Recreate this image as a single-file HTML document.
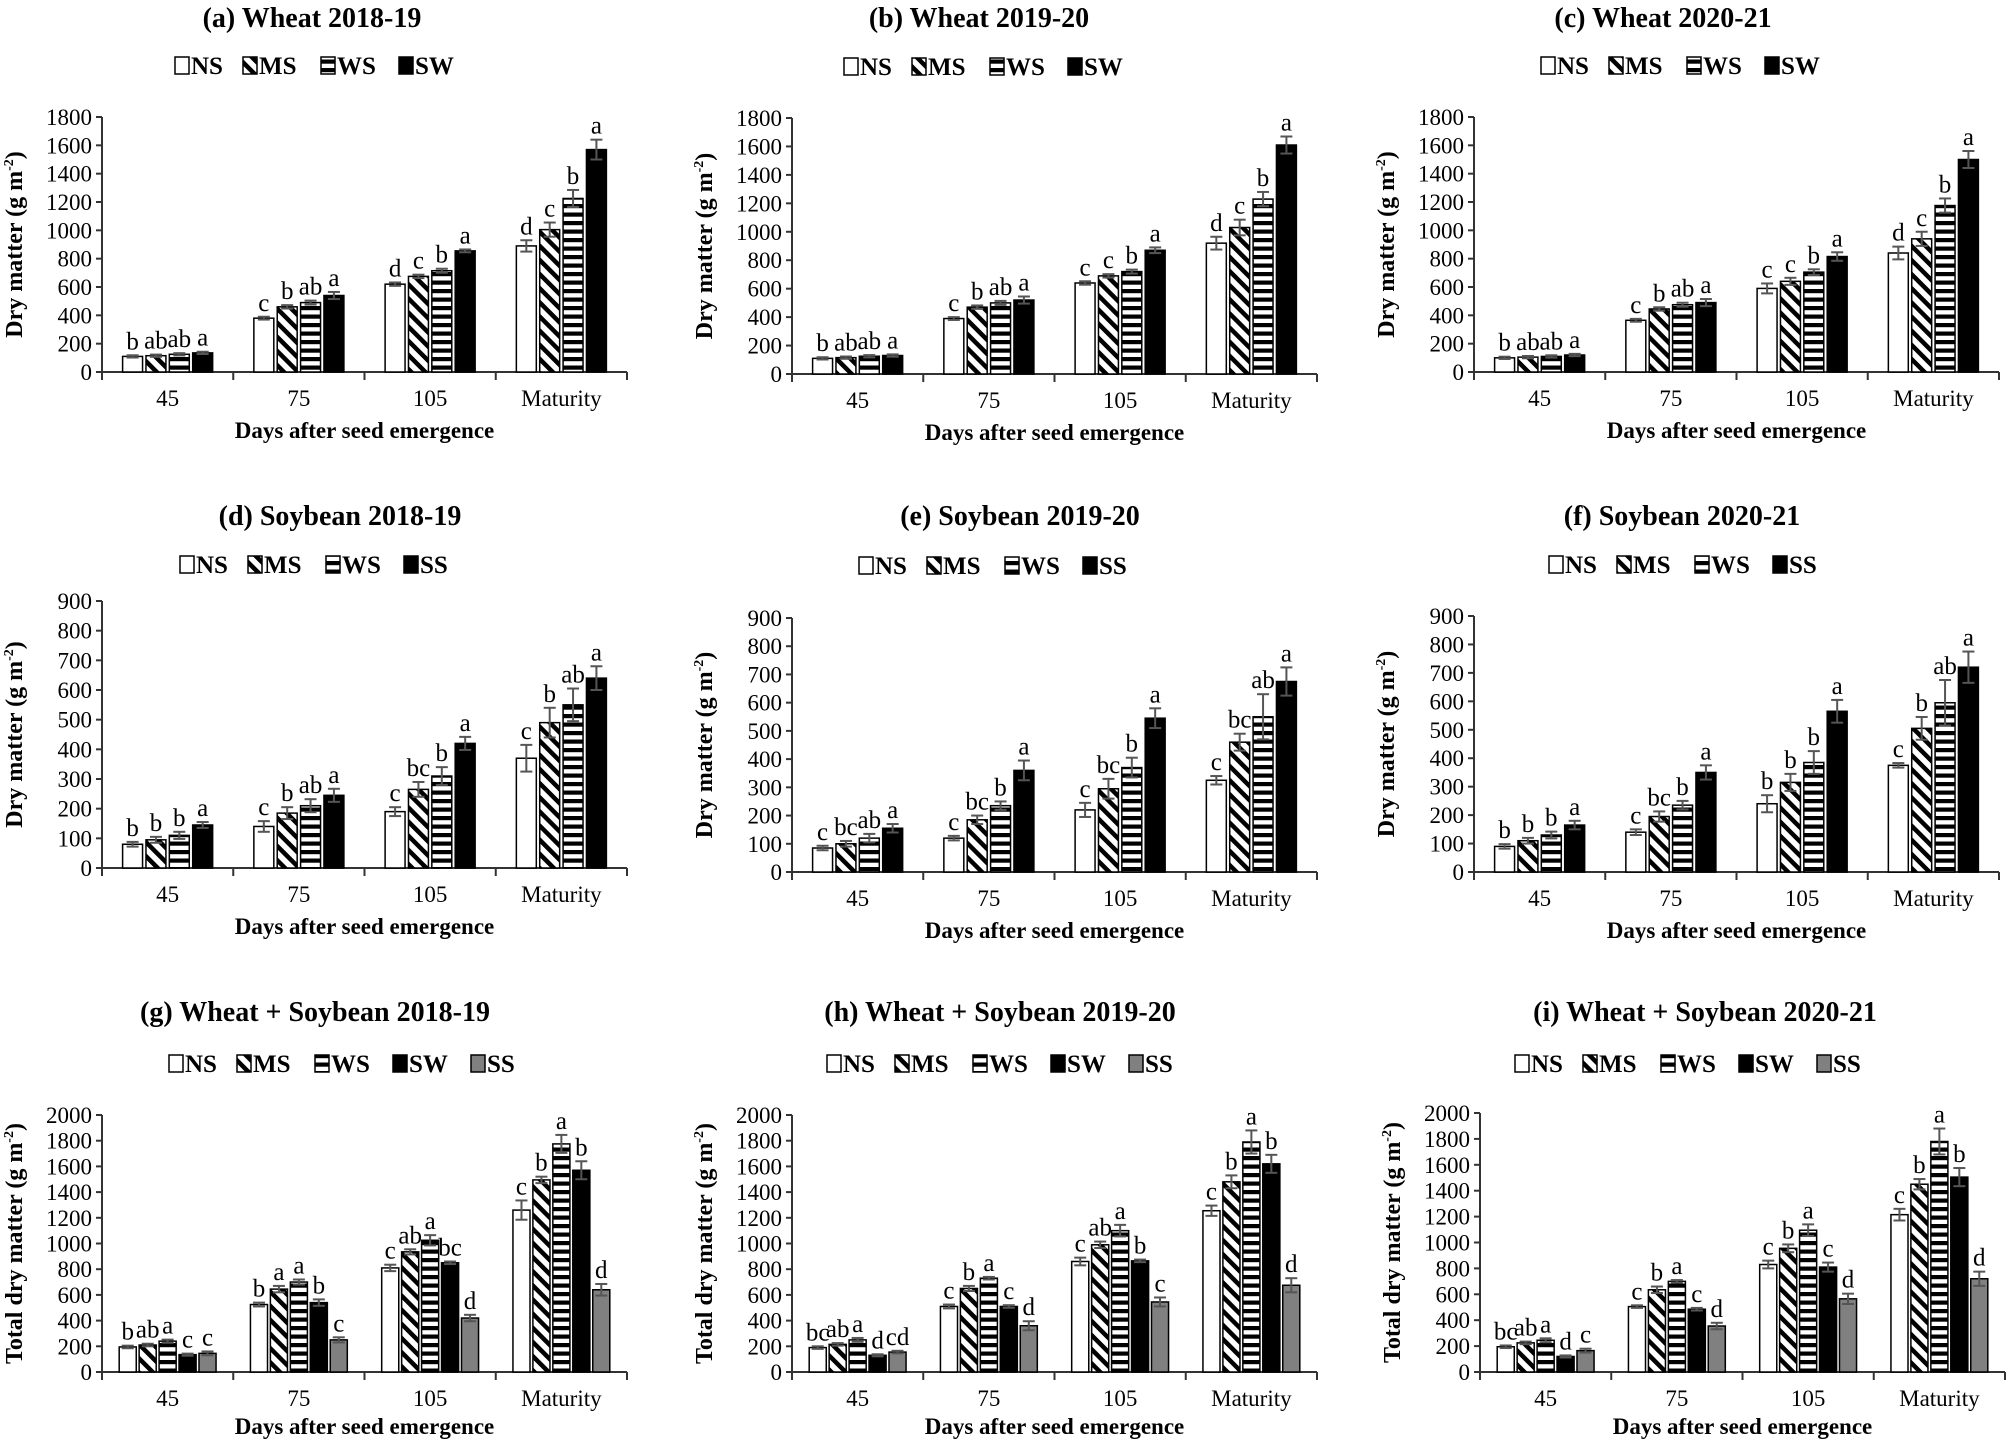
<!DOCTYPE html>
<html><head><meta charset="utf-8">
<style>
html,body{margin:0;padding:0;background:#fff;}
svg{display:block;}
text{font-family:"Liberation Serif","DejaVu Serif",serif;}
</style></head>
<body>
<svg id="s" width="2010" height="1443" xmlns="http://www.w3.org/2000/svg">
<defs>
<pattern id="diag" patternUnits="userSpaceOnUse" width="10" height="10" patternTransform="rotate(45)">
<rect width="10" height="10" fill="#fff"/><rect x="0" y="0" width="10" height="4.5" fill="#000"/>
</pattern>
<pattern id="horz" patternUnits="userSpaceOnUse" width="8" height="8.5">
<rect width="8" height="8.5" fill="#fff"/><rect x="0" y="0" width="8" height="4.2" fill="#000"/>
</pattern>
</defs>
</svg>
<script>
var S=document.getElementById('s');var NS='http://www.w3.org/2000/svg';
function el(t,a,txt){var e=document.createElementNS(NS,t);for(var k in a)e.setAttribute(k,a[k]);if(txt!==undefined)e.textContent=txt;S.appendChild(e);return e;}
var fills={NS:'#fff',MS:'url(#diag)',WS:'url(#horz)',SW:'#000',SS:'#000',SS5:'#808080'};
var panels=[
{t:'(a) Wheat 2018-19',ax:102,top:117,bot:372,ty:17,ly:65,tc:312,lc:318,max:1800,step:200,ser:['NS','MS','WS','SW'],yt:'Dry matter',xo:66,
d:[[110,115,125,135],[380,460,490,540],[620,675,715,855],[890,1005,1225,1570]],
e:[[8,8,8,8],[10,12,14,25],[12,12,14,10],[40,50,60,70]],
l:[['b','ab','ab','a'],['c','b','ab','a'],['d','c','b','a'],['d','c','b','a']]},
{t:'(b) Wheat 2019-20',ax:792,top:118,bot:374,ty:17,ly:66,tc:979,lc:987,max:1800,step:200,ser:['NS','MS','WS','SW'],yt:'Dry matter',xo:66,
d:[[110,115,125,130],[390,470,500,520],[640,690,720,870],[920,1030,1230,1610]],
e:[[8,8,8,8],[10,12,14,25],[12,12,14,20],[45,55,50,60]],
l:[['b','ab','ab','a'],['c','b','ab','a'],['c','c','b','a'],['d','c','b','a']]},
{t:'(c) Wheat 2020-21',ax:1474,top:117,bot:372,ty:17,ly:65,tc:1663,lc:1684,max:1800,step:200,ser:['NS','MS','WS','SW'],yt:'Dry matter',xo:66,
d:[[100,105,110,120],[365,445,475,490],[590,640,705,815],[840,940,1175,1500]],
e:[[8,8,8,8],[10,12,14,25],[35,25,20,30],[45,50,50,60]],
l:[['b','ab','ab','a'],['c','b','ab','a'],['c','c','b','a'],['d','c','b','a']]},
{t:'(d) Soybean 2018-19',ax:102,top:601,bot:868,ty:515,ly:564,tc:340,lc:318,max:900,step:100,ser:['NS','MS','WS','SS'],yt:'Dry matter',xo:66,
d:[[80,95,110,145],[140,185,210,245],[190,265,310,420],[370,490,550,640]],
e:[[8,10,12,10],[18,20,22,22],[15,25,30,22],[45,50,55,40]],
l:[['b','b','b','a'],['c','b','ab','a'],['c','bc','b','a'],['c','b','ab','a']]},
{t:'(e) Soybean 2019-20',ax:792,top:618,bot:872,ty:515,ly:565,tc:1020,lc:997,max:900,step:100,ser:['NS','MS','WS','SS'],yt:'Dry matter',xo:66,
d:[[85,100,120,155],[120,185,235,360],[220,295,370,545],[325,460,550,675]],
e:[[8,10,15,15],[8,15,15,35],[25,35,35,35],[15,30,80,50]],
l:[['c','bc','ab','a'],['c','bc','b','a'],['c','bc','b','a'],['c','bc','ab','a']]},
{t:'(f) Soybean 2020-21',ax:1474,top:616,bot:872,ty:515,ly:564,tc:1682,lc:1687,max:900,step:100,ser:['NS','MS','WS','SS'],yt:'Dry matter',xo:66,
d:[[90,110,130,165],[140,195,235,350],[240,315,385,565],[375,505,595,720]],
e:[[8,10,12,15],[10,18,15,25],[30,30,40,40],[8,40,80,55]],
l:[['b','b','b','a'],['c','bc','b','a'],['b','b','b','a'],['c','b','ab','a']]},
{t:'(g) Wheat + Soybean 2018-19',ax:102,top:1115,bot:1372,ty:1011,ly:1063,tc:315,lc:346,max:2000,step:200,ser:['NS','MS','WS','SW','SS5'],yt:'Total dry matter',xo:62,
d:[[195,210,240,135,145],[525,645,700,540,250],[810,935,1025,850,420],[1260,1495,1775,1570,640]],
e:[[10,10,12,8,15],[15,25,20,25,20],[25,20,40,10,25],[75,25,70,70,45]],
l:[['b','ab','a','c','c'],['b','a','a','b','c'],['c','ab','a','bc','d'],['c','b','a','b','d']]},
{t:'(h) Wheat + Soybean 2019-20',ax:792,top:1115,bot:1372,ty:1011,ly:1063,tc:1000,lc:1004,max:2000,step:200,ser:['NS','MS','WS','SW','SS5'],yt:'Total dry matter',xo:62,
d:[[190,215,250,130,155],[510,650,730,510,360],[860,990,1100,865,545],[1255,1480,1790,1620,675]],
e:[[10,10,15,8,10],[15,20,10,10,35],[30,25,45,10,35],[40,50,90,70,55]],
l:[['bc','ab','a','d','cd'],['c','b','a','c','d'],['c','ab','a','b','c'],['c','b','a','b','d']]},
{t:'(i) Wheat + Soybean 2020-21',ax:1480,top:1113,bot:1372,ty:1011,ly:1063,tc:1705,lc:1692,max:2000,step:200,ser:['NS','MS','WS','SW','SS5'],yt:'Total dry matter',xo:62,
d:[[195,225,245,120,165],[505,635,700,485,355],[830,955,1095,810,565],[1215,1450,1780,1505,720]],
e:[[10,10,15,8,15],[10,25,10,10,25],[30,30,45,35,40],[45,40,100,70,55]],
l:[['bc','ab','a','d','c'],['c','b','a','c','d'],['c','b','a','c','d'],['c','b','a','b','d']]}
];
var W=525,cats=['45','75','105','Maturity'];
panels.forEach(function(p){
  var ax=p.ax,gw=W/4,n=p.ser.length;
  function Y(v){return p.bot-(v/p.max)*(p.bot-p.top);}
  el('text',{x:p.tc,y:p.ty+10,'text-anchor':'middle','font-size':28,'font-weight':'bold'},p.t);
  var labels=p.ser.map(function(s){return s=='SS5'?'SS':s;});
  var itemW=labels.map(function(s){return 16+(s=='NS'||s=='SS'?36:46)+16;});
  var tot=itemW.reduce(function(a,b){return a+b;},0)-16;
  var lx=p.lc-tot/2;
  p.ser.forEach(function(s,i){
    el('rect',{x:lx,y:p.ly-8,width:14,height:17,fill:fills[s],stroke:'#000','stroke-width':1.5});
    el('text',{x:lx+16,y:p.ly+9,'font-size':25,'font-weight':'bold'},labels[i]);
    lx+=itemW[i];
  });
  var cy=(p.top+p.bot)/2;
  var t=el('text',{x:0,y:0,'text-anchor':'middle','font-size':24,'font-weight':'bold',transform:'translate('+(ax-80)+','+cy+') rotate(-90)'});
  t.innerHTML=p.yt+' (g m<tspan dy="-9" font-size="14">-2</tspan><tspan dy="9">)</tspan>';
  el('line',{x1:ax,y1:p.top,x2:ax,y2:p.bot,stroke:'#333','stroke-width':2});
  for(var v=0;v<=p.max;v+=p.step){
    var y=Y(v);
    el('line',{x1:ax-6,y1:y,x2:ax,y2:y,stroke:'#333','stroke-width':2});
    el('text',{x:ax-10,y:y+8,'text-anchor':'end','font-size':23},String(v));
  }
  el('line',{x1:ax,y1:p.bot,x2:ax+W,y2:p.bot,stroke:'#333','stroke-width':2});
  for(var g=0;g<=4;g++){var x=ax+g*gw;el('line',{x1:x,y1:p.bot,x2:x,y2:p.bot+8,stroke:'#333','stroke-width':2});}
  var bw,sp;if(n==4){bw=gw*0.152;sp=gw*0.178;}else{bw=gw*0.13;sp=gw*0.152;}
  for(var g=0;g<4;g++){
    var gc=ax+(g+0.5)*gw;
    el('text',{x:gc,y:p.bot+34,'text-anchor':'middle','font-size':23},cats[g]);
    for(var i=0;i<n;i++){
      var bx=gc+(i-(n-1)/2)*sp-bw/2;var v=p.d[g][i];var y=Y(v);
      el('rect',{x:bx,y:y,width:bw,height:p.bot-y,fill:fills[p.ser[i]],stroke:'#000','stroke-width':1.5});
      var e=p.e[g][i];var ey1=Y(v+e),ey2=Y(v-e),cx=bx+bw/2;
      el('line',{x1:cx,y1:ey1,x2:cx,y2:ey2,stroke:'#555','stroke-width':2});
      el('line',{x1:cx-6,y1:ey1,x2:cx+6,y2:ey1,stroke:'#555','stroke-width':2});
      el('line',{x1:cx-6,y1:ey2,x2:cx+6,y2:ey2,stroke:'#555','stroke-width':2});
      el('text',{x:cx,y:ey1-6,'text-anchor':'middle','font-size':25},p.l[g][i]);
    }
  }
  el('text',{x:ax+W/2,y:p.bot+p.xo,'text-anchor':'middle','font-size':23,'font-weight':'bold'},'Days after seed emergence');
});
</script>
</body></html>
